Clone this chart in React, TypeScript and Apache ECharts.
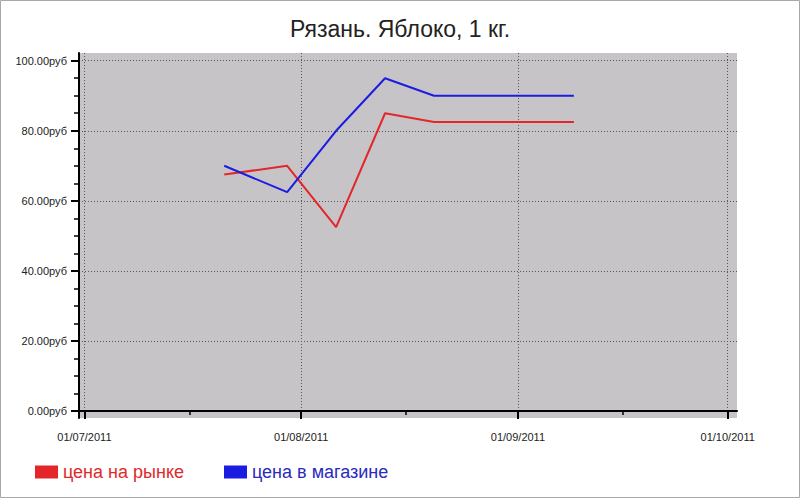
import React, { useEffect, useRef } from "react";
import * as echarts from "echarts";

const DAY = 24 * 3600 * 1000;
const d = (y: number, m: number, day: number) => new Date(y, m - 1, day).getTime();

const dates = [d(2011, 7, 21), d(2011, 7, 30), d(2011, 8, 6), d(2011, 8, 13), d(2011, 8, 20), d(2011, 8, 27), d(2011, 9, 2), d(2011, 9, 9)];
const marketPrices = [67.5, 70, 52.5, 85, 82.5, 82.5, 82.5, 82.5];
const shopPrices = [70, 62.5, 80, 95, 90, 90, 90, 90];
const monthTicks = [d(2011, 7, 1), d(2011, 8, 1), d(2011, 9, 1), d(2011, 10, 1)];
const midMonthTicks = [d(2011, 7, 16), d(2011, 8, 16), d(2011, 9, 16)];
const yMajorTicks = [0, 20, 40, 60, 80, 100];
const yMinorTicks = [5, 10, 15, 25, 30, 35, 45, 50, 55, 65, 70, 75, 85, 90, 95];
const seriesNames = ["цена на рынке", "цена в магазине"];
const title = "Рязань. Яблоко, 1 кг.";

const pad = (n: number) => (n < 10 ? "0" + n : "" + n);

export default function App() {
  const ref = useRef<HTMLDivElement>(null);
  useEffect(() => {
    if (!ref.current) return;
    const chart = echarts.init(ref.current, null, { renderer: "svg" });
    const font = "'Liberation Sans', Arial, sans-serif";
    const xMin = monthTicks[0] - 0.77 * DAY;
    const xMax = monthTicks[3] + 1.33 * DAY;
    chart.setOption({
      animation: false,
      backgroundColor: "#ffffff",
      title: {
        text: title,
        left: "center",
        top: 12,
        textStyle: { fontFamily: font, fontSize: 23, fontWeight: "normal", color: "#222" },
      },
      graphic: [
        {
          type: "rect",
          shape: { x: 0.5, y: 0.5, width: 799, height: 497 },
          style: { fill: "none", stroke: "#a8a8a8", lineWidth: 1 },
          silent: true,
        },
      ],
      legend: {
        left: 30,
        top: 458,
        itemWidth: 23,
        itemHeight: 13,
        itemGap: 40,
        icon: "rect",
        textStyle: { fontFamily: font, fontSize: 18 },
        data: [
          { name: seriesNames[0], textStyle: { color: "#e02a2a" } },
          { name: seriesNames[1], textStyle: { color: "#2a2ac0" } },
        ],
      },
      grid: {
        left: 79,
        right: 63,
        top: 53,
        bottom: 80,
        show: true,
        backgroundColor: "#c6c4c7",
        borderWidth: 0,
      },
      xAxis: [
        {
          type: "value",
          position: "bottom",
          min: xMin,
          max: xMax,
          axisLine: { show: true, lineStyle: { color: "#000", width: 2 } },
          axisTick: { show: true, customValues: monthTicks, length: 8, lineStyle: { color: "#000", width: 2 } },
          axisLabel: {
            customValues: monthTicks,
            margin: 13,
            fontFamily: font,
            fontSize: 11,
            color: "#222",
            formatter: (v: number) => {
              const t = new Date(v);
              return pad(t.getDate()) + "/" + pad(t.getMonth() + 1) + "/" + t.getFullYear();
            },
          },
          splitLine: { show: true, lineStyle: { color: "#555", type: [1, 2], width: 1 } },
        },
        {
          type: "value",
          position: "bottom",
          offset: 0,
          min: xMin,
          max: xMax,
          axisLine: { show: false },
          axisTick: { show: true, customValues: midMonthTicks, length: 4, lineStyle: { color: "#000", width: 1.5 } },
          axisLabel: { show: false },
          splitLine: { show: false },
        },
      ],
      yAxis: [
        {
          type: "value",
          position: "left",
          min: -2,
          max: 102.2,
          axisLine: { show: true, lineStyle: { color: "#000", width: 2 } },
          axisTick: { show: true, customValues: yMajorTicks, length: 8, lineStyle: { color: "#000", width: 2 } },
          axisLabel: {
            customValues: yMajorTicks,
            margin: 12,
            fontFamily: font,
            fontSize: 11,
            color: "#222",
            formatter: (v: number) => v.toFixed(2) + "руб",
          },
          splitLine: { show: true, lineStyle: { color: "#555", type: [1, 2], width: 1 } },
        },
        {
          type: "value",
          position: "left",
          offset: 0,
          min: -2,
          max: 102.2,
          axisLine: { show: false },
          axisTick: { show: true, customValues: yMinorTicks, length: 5, lineStyle: { color: "#000", width: 1.5 } },
          axisLabel: { show: false },
          splitLine: { show: false },
        },
      ],
      series: [
        {
          name: seriesNames[0],
          type: "line",
          xAxisIndex: 0,
          yAxisIndex: 0,
          data: dates.map((t, i) => [t, marketPrices[i]]),
          showSymbol: false,
          symbol: "none",
          color: "#e3262a",
          lineStyle: { width: 2, color: "#e3262a" },
        },
        {
          name: seriesNames[1],
          type: "line",
          xAxisIndex: 0,
          yAxisIndex: 0,
          data: dates.map((t, i) => [t, shopPrices[i]]),
          showSymbol: false,
          symbol: "none",
          color: "#1c1ce0",
          lineStyle: { width: 2, color: "#1c1ce0" },
        },
      ],
    });
    return () => chart.dispose();
  }, []);
  return (
    <div
      ref={ref}
      style={{ position: "absolute", left: 0, top: 0, width: 800, height: 498 }}
    />
  );
}
